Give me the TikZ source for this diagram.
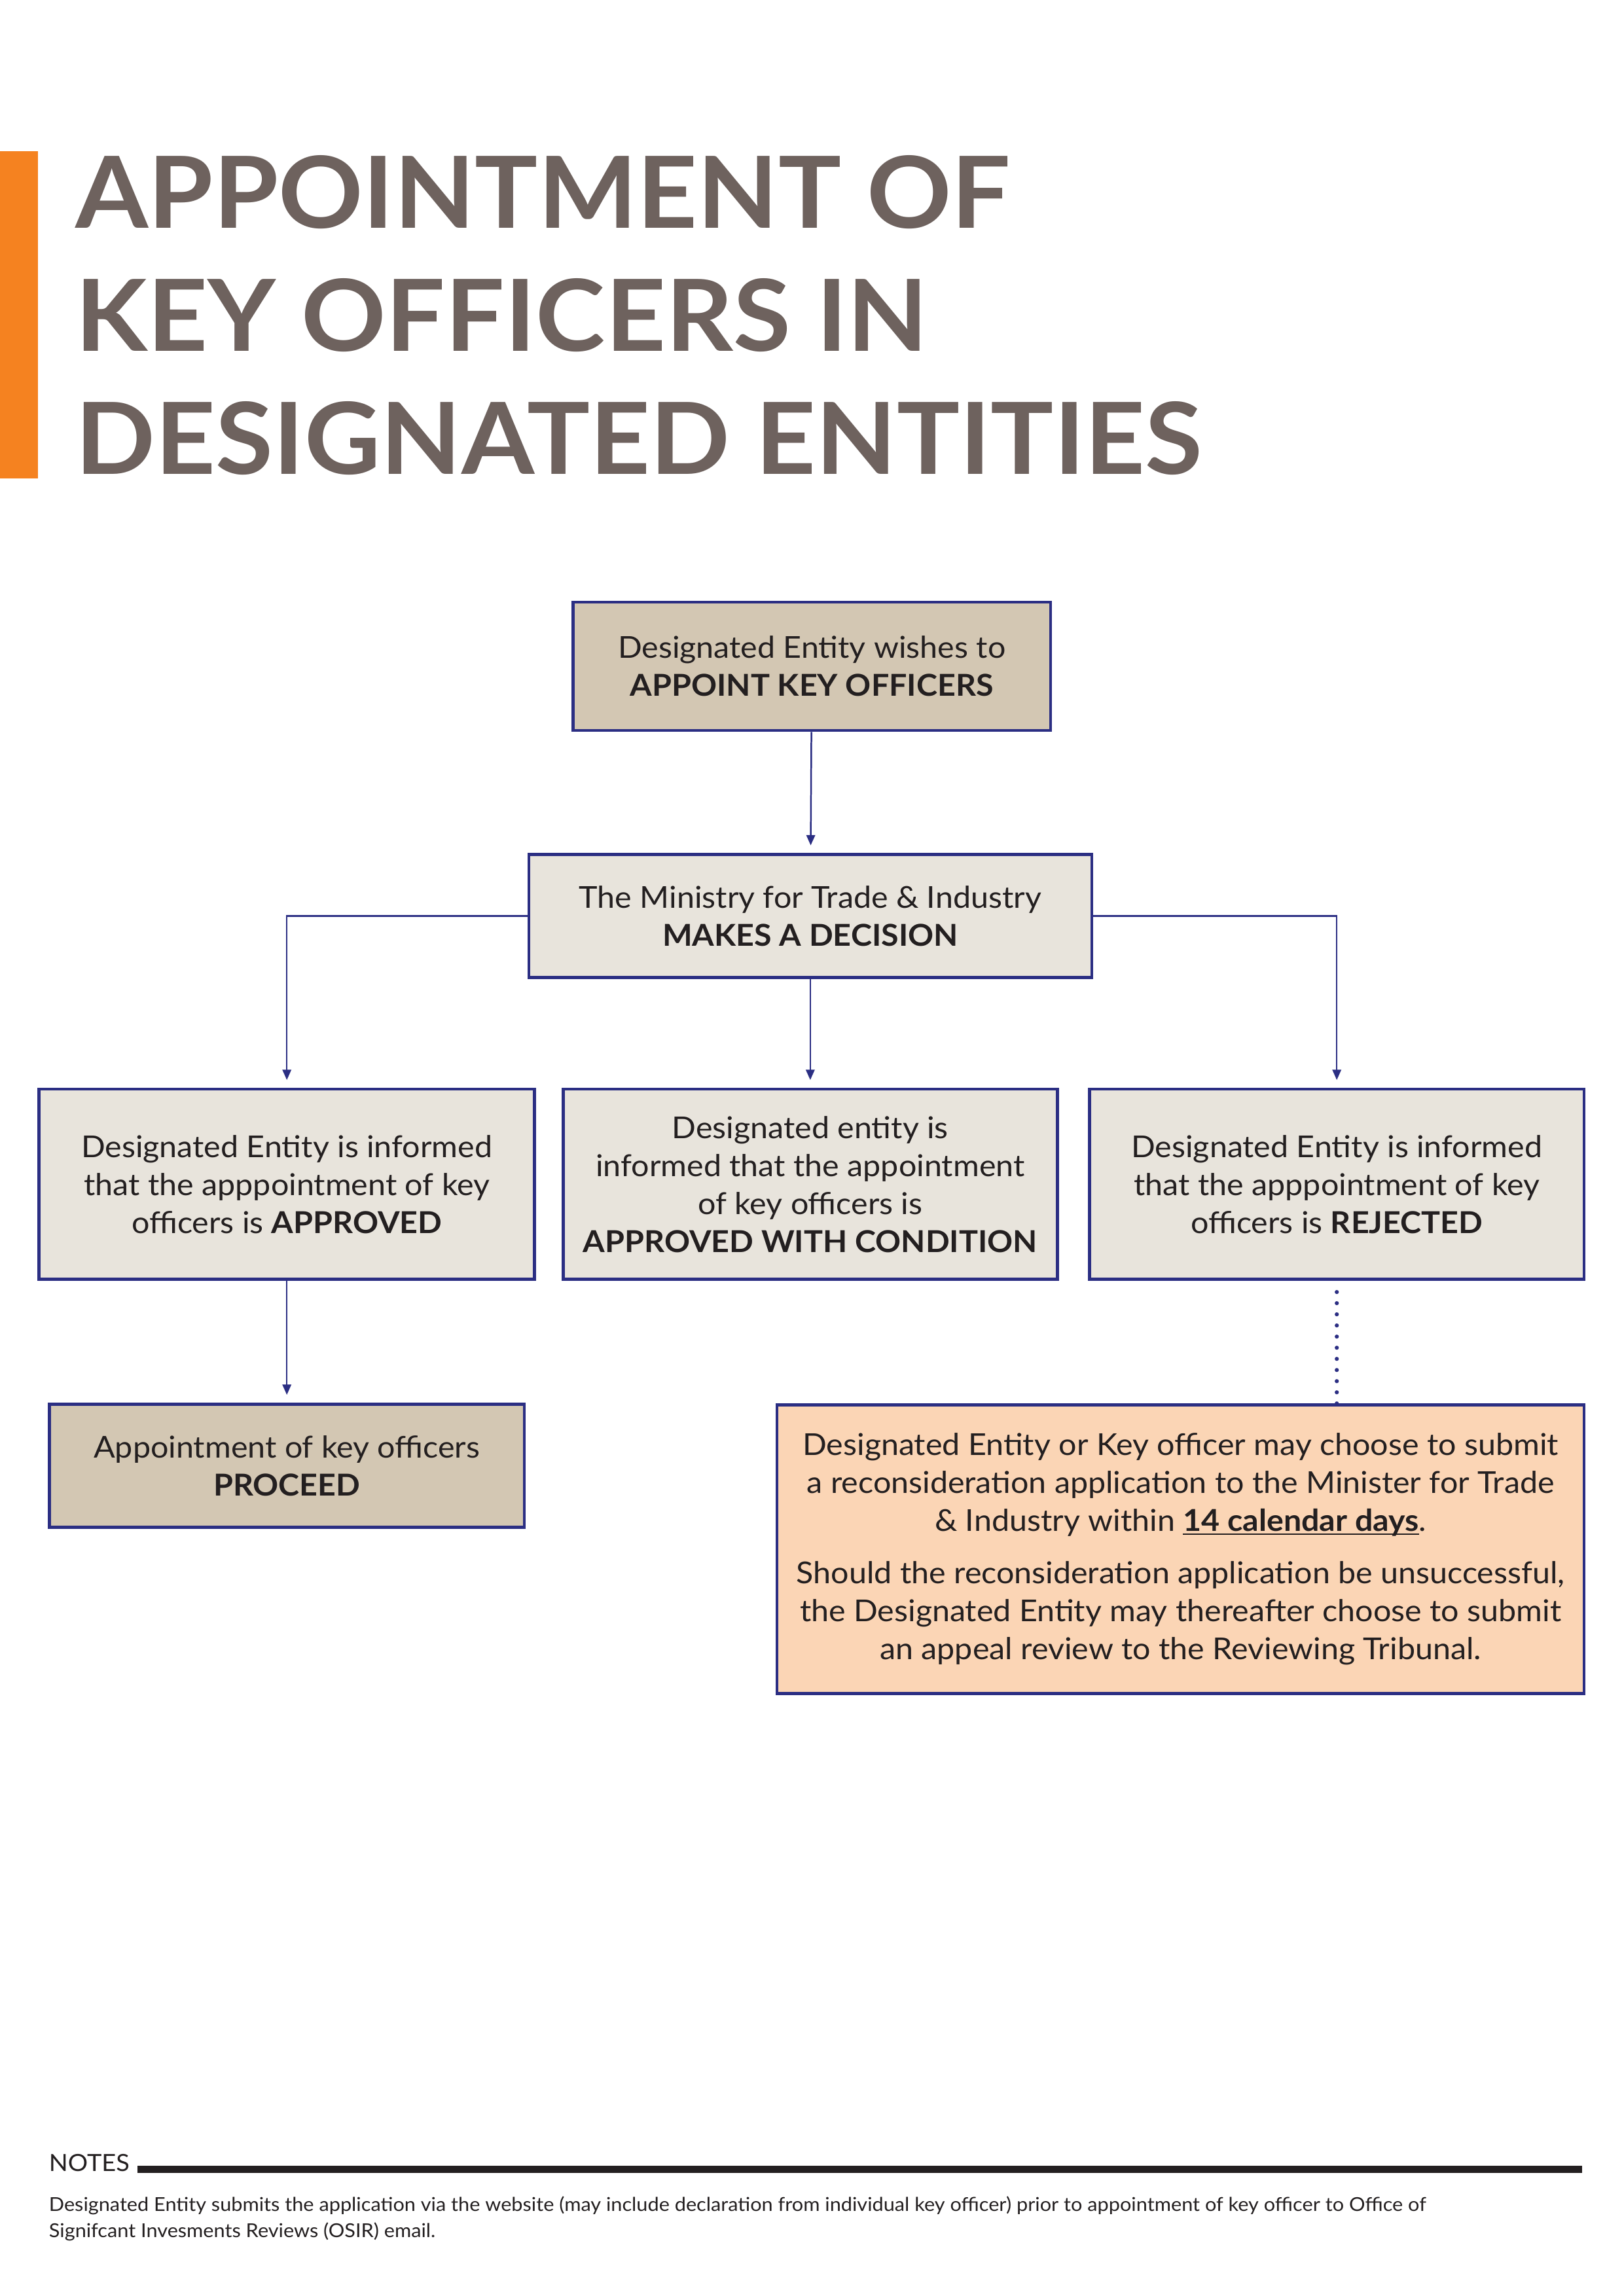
\documentclass[tikz,border=0pt]{standalone}
\usepackage{fontspec}
\setmainfont[FakeStretch=1.05]{Lato}
\newfontfamily\cstheadfont[FakeStretch=1.055]{Lato}
\definecolor{main}{RGB}{43,46,131}
\definecolor{second}{RGB}{211,199,179}
\definecolor{third}{RGB}{232,228,220}
\definecolor{fourth}{RGB}{251,213,181}
\definecolor{fifth}{RGB}{245,130,32}
\definecolor{title}{RGB}{110,98,94}
\definecolor{ink}{RGB}{35,31,32}
\usetikzlibrary{
	arrows.meta,
	positioning,
	calc
}
% underline close to the baseline
\newcommand{\cstul}[1]{\setbox0\hbox{#1}\rlap{\rule[-1.3pt]{\wd0}{0.55pt}}\box0}
\tikzset{
  % arrow
	cstra/.style      ={-{Triangle[length=3.8pt,width=3.2pt]}, draw=main, line width=0.6pt, shorten >=1mm}, % down arrow
	cstdots/.style    ={draw=main, line width=1.5pt, line cap=round, dash pattern=on 0pt off 4.1pt, shorten <=4.1pt}, % dotted link
  % text
	csttitle/.style   ={anchor=base west, inner sep=0pt, text=title, font=\cstheadfont\fontsize{36.6}{40}\selectfont\bfseries},
	cstnote/.style    ={anchor=base west, inner sep=0pt, text=ink, align=left, font=\fontsize{7.04}{9.6}\selectfont},
  % node
	cstnode/.style    ={draw=main, line width=1.1pt, text=ink, align=center, inner sep=0pt, font=\fontsize{11.1}{13.95}\selectfont},
	cstnode1/.style   ={cstnode, fill=second},
	cstnode2/.style   ={cstnode, fill=third},
	cstnode3/.style   ={cstnode, fill=fourth}
}
\begin{document}
\begin{tikzpicture}
	\useasboundingbox (0,0) rectangle (21,29.7);
	% title
	\fill[fifth] (0,23.51) rectangle (0.49,27.74);
	\node[csttitle] (t1) at (0.97,26.745) {APPOINTMENT OF};
	\node[csttitle] (t2) at (0.97,25.16) {KEY OFFICERS IN};
	\node[csttitle] (t3) at (0.97,23.57) {DESIGNATED ENTITIES};
	% boxes
	\node[cstnode1, minimum width=6.18cm, minimum height=1.66cm] (wish) at (10.50,21.08) {Designated Entity wishes to\\\textbf{APPOINT KEY OFFICERS}};
	\node[cstnode2, minimum width=7.28cm, minimum height=1.59cm] (decide) at (10.48,17.85) {The Ministry for Trade \& Industry\\\textbf{MAKES A DECISION}};
	\node[cstnode2, minimum width=6.41cm, minimum height=2.46cm] (approved) at (3.71,14.38) {Designated Entity is informed\\that the apppointment of key\\officers is \textbf{APPROVED}};
	\node[cstnode2, minimum width=6.39cm, minimum height=2.46cm] (condition) at (10.48,14.38) {Designated entity is\\informed that the appointment\\of key officers is\\\textbf{APPROVED WITH CONDITION}};
	\node[cstnode2, minimum width=6.40cm, minimum height=2.46cm] (rejected) at (17.29,14.38) {Designated Entity is informed\\that the apppointment of key\\officers is \textbf{REJECTED}};
	\node[cstnode1, minimum width=6.14cm, minimum height=1.595cm] (proceed) at (3.71,10.74) {Appointment of key officers\\\textbf{PROCEED}};
	\node[cstnode3, minimum width=10.44cm, minimum height=3.73cm] (review) at (15.27,9.66) {Designated Entity or Key officer may choose to submit\\a reconsideration application to the Minister for Trade\\\& Industry within \cstul{\textbf{14 calendar days}}.\\[5.3pt]Should the reconsideration application be unsuccessful,\\the Designated Entity may thereafter choose to submit\\an appeal review to the Reviewing Tribunal.};
	% links
	\draw[cstra] (wish) -- (decide);
	\draw[cstra] (decide.west) -| (approved.north);
	\draw[cstra] (decide) -- (condition);
	\draw[cstra] (decide.east) -| (rejected.north);
	\draw[cstra] (approved) -- (proceed);
	\draw[cstdots] (rejected.south) -- (rejected.south |- review.north);
	% notes
	\node[cstnote, font=\fontsize{8.7}{10}\selectfont] (notes) at (0.627,1.61) {NOTES};
	\draw[ink, line width=2.6pt] (1.78,1.64) -- (20.46,1.64);
	\node[cstnote] (note) at (0.627,0.76) {Designated Entity submits the application via the website (may include declaration from individual key officer) prior to appointment of key officer to Office of\\Signifcant Invesments Reviews (OSIR) email.};
\end{tikzpicture}
\end{document}
